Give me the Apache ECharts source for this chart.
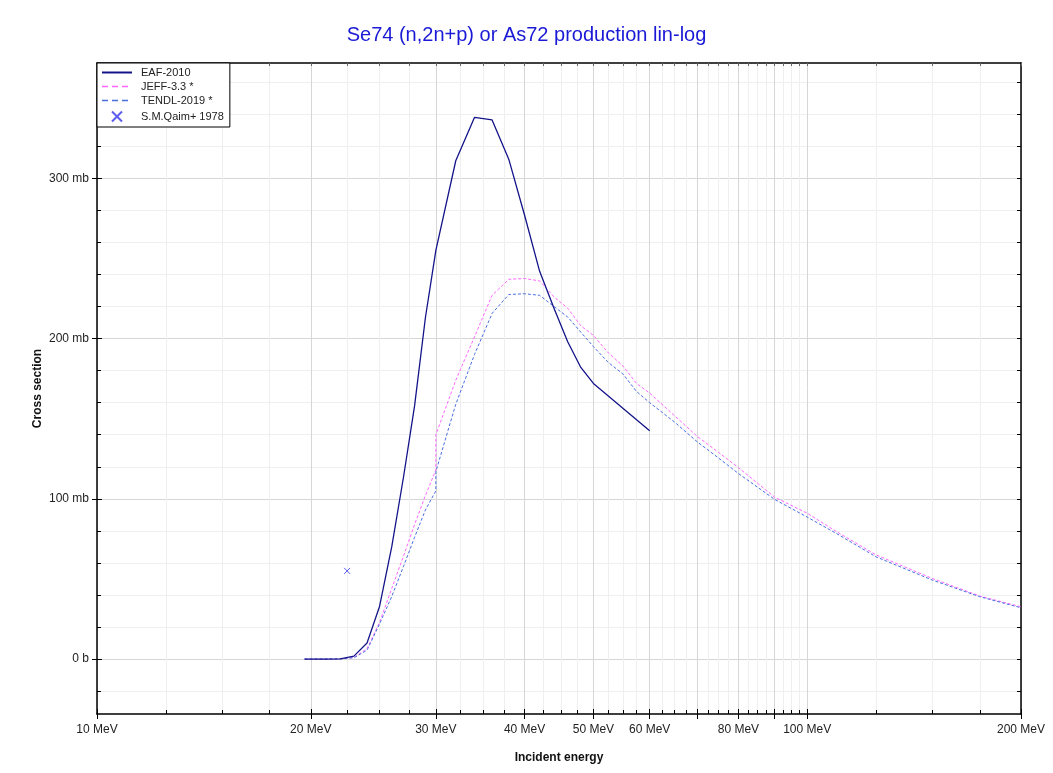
<!DOCTYPE html>
<html><head><meta charset="utf-8">
<script src="https://cdn.jsdelivr.net/npm/echarts@6/dist/echarts.min.js"></script>
<style>html,body{margin:0;padding:0;background:#fff}#c{width:1053px;height:773px}</style>
</head><body><div id="c"></div>
<script>
// ---- data ----
const energyEAF = [19.6, 20, 21, 22, 23, 24, 25, 26, 27, 28, 29, 30, 32, 34, 36, 38, 40, 42, 44, 46, 48, 50, 60];
const xsEAF = [0, 0, 0, 0.1, 1.8, 10, 33, 70, 113, 158, 213, 255, 311, 338, 336.5, 312, 277, 242, 219, 198, 182, 172, 142.5];
const energyJEFF = [19.6, 20, 21, 22, 23, 24, 25, 26, 27, 28, 29, 30, 30, 32, 34, 36, 38, 40, 42, 44, 46, 48, 50, 52.5, 55, 57.5, 60, 65, 70, 75, 80, 90, 100, 110, 125, 150, 175, 200];
const xsJEFF = [0, 0, 0, 0.1, 1, 6.5, 23, 44, 64, 84, 102, 118, 140, 174, 201, 227, 237, 237.5, 236, 226, 219, 208, 202, 191, 183, 172, 166, 152, 139, 129, 119.5, 101, 91, 79.5, 65, 50.3, 39.3, 32.6];
const energyTENDL = [19.6, 20, 21, 22, 23, 24, 25, 26, 27, 28, 29, 30, 30, 32, 34, 36, 38, 40, 42, 44, 46, 48, 50, 52.5, 55, 57.5, 60, 65, 70, 75, 80, 90, 100, 110, 125, 150, 175, 200];
const xsTENDL = [0, 0, 0, 0.1, 0.8, 5.5, 22, 39, 57.6, 76, 93, 105, 117, 159, 190, 215.7, 227.5, 228, 227, 220, 213.5, 204, 195, 185, 178, 167, 160, 148, 135.6, 125.5, 115.8, 99.6, 88.6, 78.3, 63.8, 49.3, 38.9, 32];
const energyQaim = [22.5];
const xsQaim = [55];

const xLabelValues = [10, 20, 30, 40, 50, 60, 80, 100, 200];
const xMajorTicks = [10, 20, 30, 40, 50, 60, 70, 80, 90, 100, 200];
const xMinorTicks = [12.5, 15, 17.5, 22.5, 25, 27.5, 32.5, 35, 37.5, 42.5, 45, 47.5, 52.5, 55, 57.5, 62.5, 65, 67.5, 72.5, 75, 77.5, 82.5, 85, 87.5, 92.5, 95, 97.5, 125, 150, 175];
const yLabelValues = [0, 100, 200, 300];
const yMinorTicks = [-20, 20, 40, 60, 80, 120, 140, 160, 180, 220, 240, 260, 280, 320, 340, 360];

// ---- chart ----
const X_MIN = 10, X_MAX = 200, Y_MIN = -34.3, Y_MAX = 372;
const lg = v => Math.log10(v);
const LX_MIN = lg(X_MIN), LX_MAX = lg(X_MAX);
const zip = (a, b) => a.map((v, i) => [v, b[i]]);
const font = 'Liberation Sans, Arial, sans-serif';
const allY = yLabelValues.concat(yMinorTicks).sort((a, b) => a - b);
const allX = xMajorTicks.concat(xMinorTicks).sort((a, b) => a - b).map(lg);

function deco(extra) {
  return Object.assign({
    type: 'value', gridIndex: 0, axisLine: {show: false, onZero: false}, axisLabel: {show: false},
    axisTick: {show: false}, splitLine: {show: false}
  }, extra);
}
const xAxes = [
  {type: 'log', logBase: 10, min: X_MIN, max: X_MAX, gridIndex: 0, position: 'bottom',
   axisLine: {show: true, onZero: false, lineStyle: {color: '#000', width: 1.5}},
   axisTick: {show: false}, axisLabel: {show: false}, splitLine: {show: false},
   name: 'Incident energy', nameLocation: 'middle', nameGap: 38,
   nameTextStyle: {fontFamily: font, fontSize: 12, fontWeight: 'bold', color: '#111'}},
  deco({min: LX_MIN, max: LX_MAX, position: 'bottom',
    axisTick: {show: true, inside: true, length: 4, customValues: xMinorTicks.map(lg), lineStyle: {color: '#000'}},
    splitLine: {show: true, lineStyle: {color: '#efefef', width: 1}}}),
  deco({min: LX_MIN, max: LX_MAX, position: 'bottom',
    axisTick: {show: true, inside: false, length: 5, customValues: xMajorTicks.map(lg), lineStyle: {color: '#000'}},
    axisLabel: {show: true, customValues: xLabelValues.map(lg), margin: 10, fontFamily: font, fontSize: 12, color: '#222',
      formatter: v => Math.round(Math.pow(10, v)) + ' MeV'},
    splitLine: {show: true, lineStyle: {color: '#d6d6d6', width: 1}}}),
  deco({min: LX_MIN, max: LX_MAX, position: 'bottom',
    axisTick: {show: true, inside: true, length: 5, customValues: xMajorTicks.map(lg), lineStyle: {color: '#000'}}}),
  deco({min: LX_MIN, max: LX_MAX, position: 'top',
    axisLine: {show: true, onZero: false, lineStyle: {color: '#000', width: 1.5}},
    axisTick: {show: true, inside: true, length: 3, customValues: allX, lineStyle: {color: '#666'}}})
];
const yAxes = [
  {type: 'value', min: Y_MIN, max: Y_MAX, gridIndex: 0, position: 'left',
   axisLine: {show: true, onZero: false, lineStyle: {color: '#000', width: 1.5}},
   axisTick: {show: false}, axisLabel: {show: false}, splitLine: {show: false},
   name: 'Cross section', nameLocation: 'middle', nameGap: 53,
   nameTextStyle: {fontFamily: font, fontSize: 12, fontWeight: 'bold', color: '#111'}},
  deco({min: Y_MIN, max: Y_MAX, position: 'left',
    axisTick: {show: true, inside: true, length: 4, customValues: yMinorTicks, lineStyle: {color: '#000'}},
    splitLine: {show: true, lineStyle: {color: '#efefef', width: 1}}}),
  deco({min: Y_MIN, max: Y_MAX, position: 'left',
    axisTick: {show: true, inside: false, length: 5, customValues: yLabelValues, lineStyle: {color: '#000'}},
    axisLabel: {show: true, customValues: yLabelValues, margin: 8, fontFamily: font, fontSize: 12, color: '#222',
      formatter: v => v === 0 ? '0 b' : v + ' mb'},
    splitLine: {show: true, lineStyle: {color: '#d6d6d6', width: 1}}}),
  deco({min: Y_MIN, max: Y_MAX, position: 'left',
    axisTick: {show: true, inside: true, length: 5, customValues: yLabelValues, lineStyle: {color: '#000'}}}),
  deco({min: Y_MIN, max: Y_MAX, position: 'right',
    axisLine: {show: true, onZero: false, lineStyle: {color: '#000', width: 1.5}},
    axisTick: {show: true, inside: true, length: 4, customValues: allY, lineStyle: {color: '#000'}}})
];

const noSym = {opacity: 0};
const chart = echarts.init(document.getElementById('c'), null, {renderer: 'canvas'});
chart.setOption({
  animation: false,
  backgroundColor: '#fff',
  title: {text: 'Se74 (n,2n+p) or As72 production lin-log', left: 'center', top: 20,
    textStyle: {fontFamily: font, fontSize: 20, fontWeight: 'normal', color: '#1a1ad6'}},
  grid: {left: 97, right: 32, top: 63, bottom: 59, containLabel: false},
  legend: {
    orient: 'vertical', left: 97, top: 63, itemWidth: 30, itemHeight: 10, itemGap: 3,
    padding: [4, 6, 3, 4], backgroundColor: '#fff', borderColor: '#000', borderWidth: 1,
    textStyle: {fontFamily: font, fontSize: 11, color: '#222', padding: [0, 0, 0, 4]},
    data: [
      {name: 'EAF-2010', itemStyle: noSym, lineStyle: {width: 2}},
      {name: 'JEFF-3.3 *', itemStyle: noSym, lineStyle: {type: [6, 4], width: 1.5}},
      {name: 'TENDL-2019 *', itemStyle: noSym, lineStyle: {type: [6, 4], width: 1.5}},
      {name: 'S.M.Qaim+ 1978'}
    ]
  },
  xAxis: xAxes,
  yAxis: yAxes,
  series: [
    {name: 'EAF-2010', type: 'line', xAxisIndex: 0, yAxisIndex: 0, data: zip(energyEAF, xsEAF),
     showSymbol: false, symbol: 'none', lineStyle: {color: '#14148a', width: 1.3}, itemStyle: {color: '#14148a', opacity: 0}, z: 5},
    {name: 'JEFF-3.3 *', type: 'line', xAxisIndex: 0, yAxisIndex: 0, data: zip(energyJEFF, xsJEFF),
     showSymbol: false, symbol: 'none', lineStyle: {color: '#ff66ff', width: 1, type: [3, 2]}, itemStyle: {color: '#ff66ff', opacity: 0}, z: 3},
    {name: 'TENDL-2019 *', type: 'line', xAxisIndex: 0, yAxisIndex: 0, data: zip(energyTENDL, xsTENDL),
     showSymbol: false, symbol: 'none', lineStyle: {color: '#4a6ee0', width: 1, type: [3, 2]}, itemStyle: {color: '#4a6ee0', opacity: 0}, z: 4},
    {name: 'S.M.Qaim+ 1978', type: 'scatter', xAxisIndex: 0, yAxisIndex: 0, data: zip(energyQaim, xsQaim),
     symbol: 'path://M0,0L10,10M10,0L0,10', symbolSize: 6,
     itemStyle: {color: 'none', borderColor: '#3333ee', borderWidth: 1}, z: 6}
  ]
});
</script></body></html>
